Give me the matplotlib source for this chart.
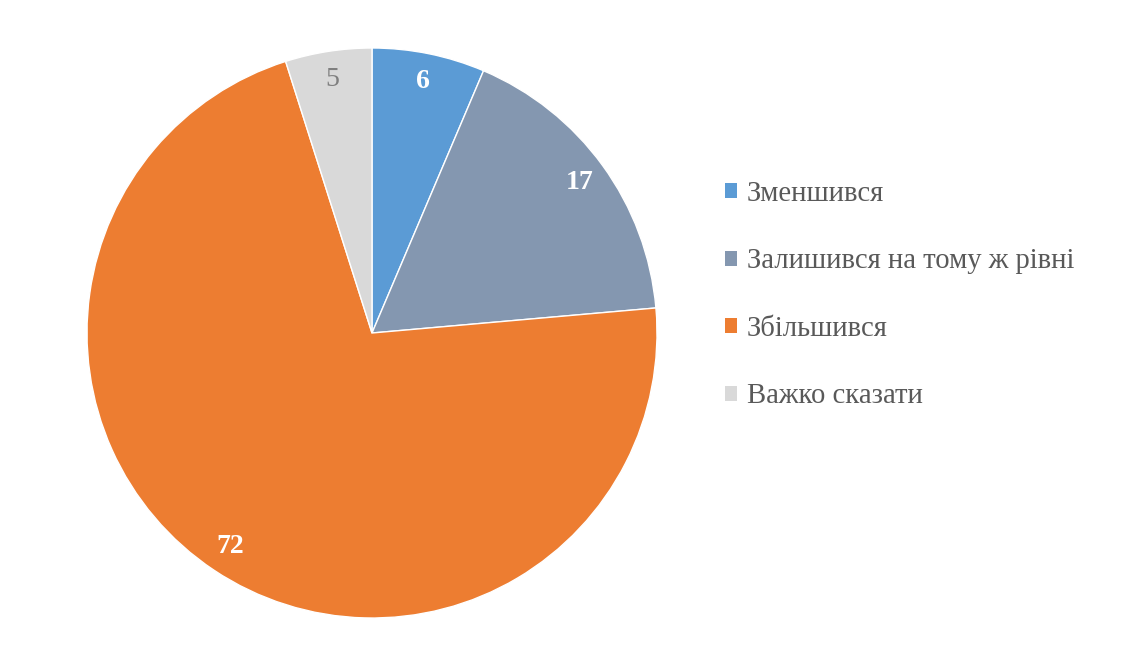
import matplotlib
matplotlib.use('Agg')
import matplotlib.pyplot as plt

labels = ['Зменшився', 'Залишився на тому ж рівні', 'Збільшився', 'Важко сказати']
values = [6.4, 17.2, 71.5, 4.9]
colors = ['#5B9BD5', '#8497B0', '#ED7D31', '#D9D9D9']
label_colors = ['white', 'white', 'white', '#7F7F7F']
label_weights = ['bold', 'bold', 'bold', 'normal']

plt.rcParams['font.family'] = ['Liberation Serif', 'DejaVu Serif']

fig = plt.figure(figsize=(11.22, 6.7), dpi=100)
ax = fig.add_axes([87 / 1122, 52 / 670, 570 / 1122, 570 / 670])

wedges, texts = ax.pie(values, colors=colors, startangle=90, counterclock=False,
                       labels=[str(round(v)) for v in values], labeldistance=0.9,
                       wedgeprops=dict(edgecolor='white', linewidth=1))
for t, c, w in zip(texts, label_colors, label_weights):
    t.set_color(c)
    t.set_fontweight(w)
    t.set_fontsize(20)
    t.set_ha('center')
    t.set_va('center')
ax.set_xlim(-1, 1)
ax.set_ylim(-1, 1)

leg = fig.legend(wedges, labels, loc='center left', bbox_to_anchor=(699 / 1122, (670 - 295) / 670),
                 frameon=False, fontsize=20.6, labelcolor='#595959',
                 handlelength=0.43, handleheight=0.43, handletextpad=0.35,
                 labelspacing=1.45)
for h in leg.legend_handles:
    h.set_edgecolor('none')

fig.savefig('out.png', dpi=100)
